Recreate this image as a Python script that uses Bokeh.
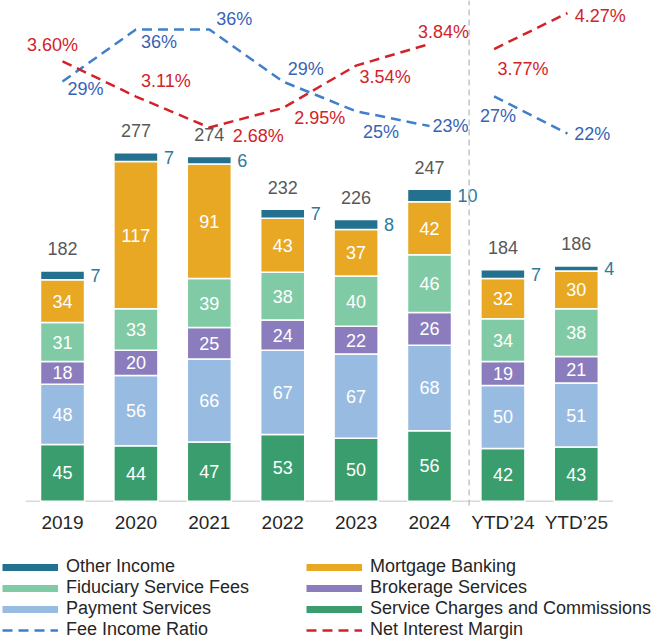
import numpy as np
from bokeh.plotting import figure
from bokeh.models import ColumnDataSource, Range1d, Legend, LegendItem, FixedTicker
from bokeh.core.properties import value
from bokeh.embed import file_html
from bokeh.resources import INLINE

# ---------------- data ----------------
categories = ["2019", "2020", "2021", "2022", "2023", "2024", "YTD\u201924", "YTD\u201925"]
service_charges = [45, 44, 47, 53, 50, 56, 42, 43]
payment_services = [48, 56, 66, 67, 67, 68, 50, 51]
brokerage_services = [18, 20, 25, 24, 22, 26, 19, 21]
fiduciary_fees = [31, 33, 39, 38, 40, 46, 34, 38]
mortgage_banking = [34, 117, 91, 43, 37, 42, 32, 30]
other_income = [7, 7, 6, 7, 8, 10, 7, 4]
totals = [182, 277, 274, 232, 226, 247, 184, 186]
fee_income_ratio = [29, 36, 36, 29, 25, 23, 27, 22]
net_interest_margin = [3.60, 3.11, 2.68, 2.95, 3.54, 3.84, 3.77, 4.27]

# ---------------- styles ----------------
FONT = "Liberation Sans"
C_SERVICE = "#3A9D6E"
C_PAYMENT = "#98BBE2"
C_BROKER = "#8B7DBD"
C_FIDUC = "#80CBA5"
C_MORT = "#E8A823"
C_OTHER = "#23708F"
C_FEE_LINE = "#3F7FCB"
C_FEE_TEXT = "#3763B5"
C_NIM = "#D2232A"
colors = [C_SERVICE, C_PAYMENT, C_BROKER, C_FIDUC, C_MORT, C_OTHER]

# label placement offsets (screen px) for line labels
fee_dx = [23, 23, 25, 23, 25, 21, -5, 16]
fee_dy = [7, 13, -10, -13, 21, 0, 20, 0]
nim_dx = [-10, 30, 49, 37, 29, 14, 20, 24]
nim_dy = [-16, -16, 8, 10, 11, -12, 20, 3]

xs = np.arange(len(categories), dtype=float)   # category positions

Y_TOP = 398.0
p = figure(width=655, height=641,
           x_range=Range1d(-0.845, 8.079),
           y_range=Range1d(-111.5, Y_TOP),
           output_backend="svg", toolbar_location=None, y_axis_location=None,
           min_border_left=0, min_border_right=0, min_border_top=0, min_border_bottom=0)
p.extra_y_ranges = {"fee": Range1d(-46.37, 39.903), "nim": Range1d(-4.459, 4.444)}
p.outline_line_color = None
p.grid.visible = False

# ---------------- baseline ----------------
p.segment(x0=[xs[0] - 0.5], x1=[xs[-1] + 0.5], y0=[0], y1=[0], line_color="#D9D9D9", line_width=1.5)

# ---------------- stacked bars ----------------
keys = ["service", "payment", "brokerage", "fiduciary", "mortgage", "other"]
arrs = [service_charges, payment_services, brokerage_services, fiduciary_fees, mortgage_banking, other_income]
src = ColumnDataSource(dict(x=xs, **{k: v for k, v in zip(keys, arrs)}))
p.vbar_stack(keys, x="x", width=0.6, color=colors, line_color="white", line_width=1.5, source=src)

M = np.array(arrs, dtype=float)
cum = np.cumsum(M, axis=0)
mid = cum - M / 2

# inner segment labels
seg_x, seg_y, seg_t = [], [], []
for i in range(5):
    for j in range(len(categories)):
        seg_x.append(xs[j])
        seg_y.append(mid[i, j])
        seg_t.append(str(arrs[i][j]))
p.text(x=seg_x, y=seg_y, text=seg_t, text_color="white", text_font=value(FONT),
       text_font_size="18px", text_align="center", text_baseline="middle")

# other income labels
p.text(x=xs, y=mid[5], text=[str(v) for v in other_income], x_offset=28,
       text_color="#2E7A9A", text_font=value(FONT), text_font_size="18px",
       text_align="left", text_baseline="middle")

# totals
p.text(x=xs, y=cum[5], text=[str(v) for v in totals], y_offset=-22,
       text_color="#595959", text_font=value(FONT), text_font_size="18px",
       text_align="center", text_baseline="middle")

# ---------------- separator ----------------
p.segment(x0=[xs[5] + 0.54], x1=[xs[5] + 0.54], y0=[-3.4], y1=[Y_TOP],
          line_color="#C4C4C4", line_width=1.5, line_dash="6 4")

# ---------------- lines ----------------
def seg_line(vals, rng, color, a, b, shift):
    return p.line(x=xs[a:b] + shift, y=vals[a:b], y_range_name=rng, line_color=color,
                  line_width=2.5, line_dash="10 6")

r_fee = seg_line(fee_income_ratio, "fee", C_FEE_LINE, 0, 6, 0.0)
seg_line(fee_income_ratio, "fee", C_FEE_LINE, 6, 8, -0.12)
r_nim = seg_line(net_interest_margin, "nim", C_NIM, 0, 6, 0.0)
seg_line(net_interest_margin, "nim", C_NIM, 6, 8, -0.12)

p.text(x=xs, y=fee_income_ratio, text=[f"{v}%" for v in fee_income_ratio],
       x_offset=fee_dx, y_offset=fee_dy, y_range_name="fee", text_color=C_FEE_TEXT,
       text_font=value(FONT), text_font_size="18px", text_align="center", text_baseline="middle")
p.text(x=xs, y=net_interest_margin, text=[f"{v:.2f}%" for v in net_interest_margin],
       x_offset=nim_dx, y_offset=nim_dy, y_range_name="nim", text_color=C_NIM,
       text_font=value(FONT), text_font_size="18px", text_align="center", text_baseline="middle")

# ---------------- axis ----------------
ax = p.xaxis[0]
ax.fixed_location = 0
ax.ticker = FixedTicker(ticks=list(xs))
ax.major_label_overrides = {float(x): c for x, c in zip(xs, categories)}
ax.axis_line_color = None
ax.major_tick_line_color = None
ax.minor_tick_line_color = None
ax.major_label_text_font = FONT
ax.major_label_text_font_size = "19px"
ax.major_label_text_color = "#262626"
ax.major_label_standoff = 5

# ---------------- legends ----------------
def proxy(color):
    return p.line(x=[np.nan], y=[np.nan], line_color=color, line_width=7)

r_other = proxy(C_OTHER)
r_fid = proxy(C_FIDUC)
r_pay = proxy(C_PAYMENT)
r_mort = proxy(C_MORT)
r_brk = proxy(C_BROKER)
r_svc = proxy(C_SERVICE)

def make_legend(items, loc):
    lg = Legend(items=[LegendItem(label=l, renderers=[r]) for l, r in items], location=loc,
                orientation="vertical", glyph_width=56, glyph_height=20, label_height=20,
                spacing=0, padding=0, margin=0, label_standoff=8,
                label_text_font=FONT, label_text_font_size="18px", label_text_color="#262626",
                border_line_color=None, background_fill_alpha=0)
    p.add_layout(lg)

make_legend([("Other Income", r_other), ("Fiduciary Service Fees", r_fid),
             ("Payment Services", r_pay), ("Fee Income Ratio", r_fee)], (2, 1))
make_legend([("Mortgage Banking", r_mort), ("Brokerage Services", r_brk),
             ("Service Charges and Commissions", r_svc), ("Net Interest Margin", r_nim)], (306, 1))

open("out.html", "w").write(file_html(p, INLINE))
